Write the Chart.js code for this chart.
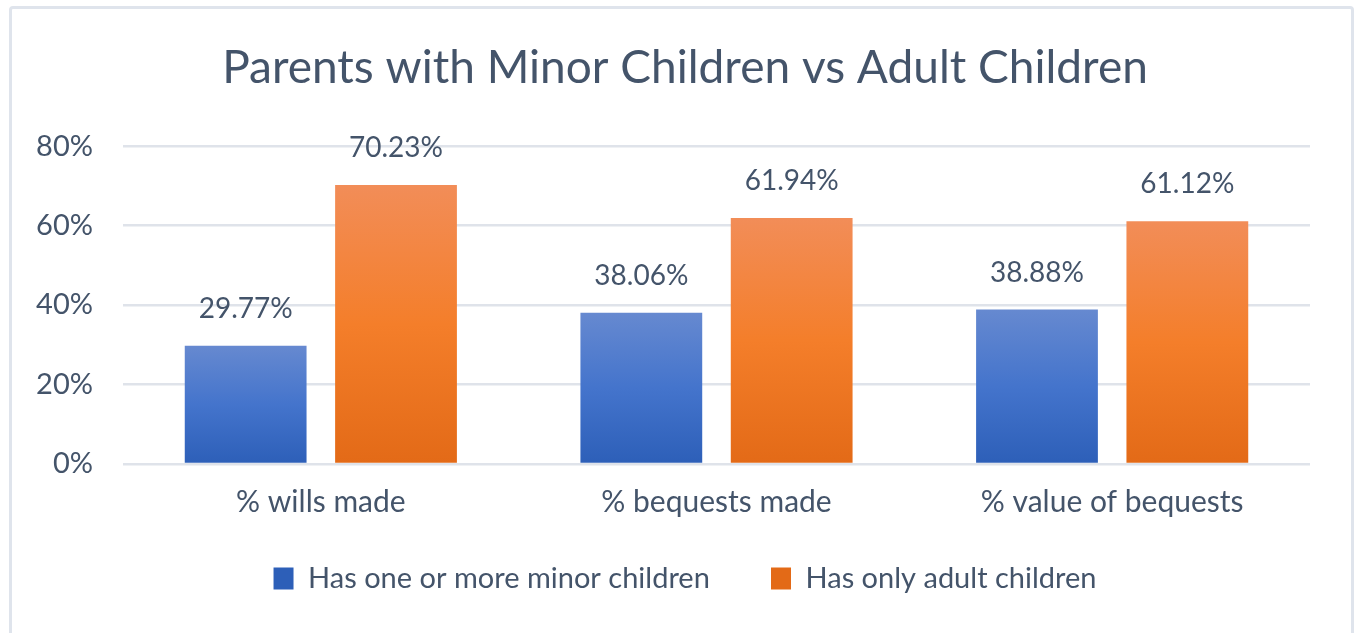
<!DOCTYPE html>
<html>
<head>
<meta charset="utf-8">
<script src="https://cdn.jsdelivr.net/npm/chart.js@4.4.0/dist/chart.umd.min.js"></script>
<style>
  html, body { margin: 0; padding: 0; background: #fff; overflow: hidden; }
  #frame {
    position: absolute; left: 9px; top: 6px; width: 1339px; height: 700px;
    border: 3px solid #dfe4ec; border-radius: 4px;
  }
  #wrap { position: absolute; left: 0; top: 0; width: 1354px; height: 633px; }
</style>
</head>
<body>
<div id="frame"></div>
<div id="wrap"><canvas id="grafico"></canvas></div>
<script>
const categorias = ['% wills made', '% bequests made', '% value of bequests'];
const menores = [29.77, 38.06, 38.88];
const adultos = [70.23, 61.94, 61.12];
const nombres = ['Has one or more minor children', 'Has only adult children'];
const ticksY = [0, 20, 40, 60, 80];

const textoColor = '#44546a';
const fuente = 'Lato, "Open Sans", sans-serif';

// degradado por barra, claro arriba y oscuro abajo
function degradado(arriba, medio, abajo, plano) {
    return function (ctx) {
        const chart = ctx.chart;
        if (!chart.chartArea || ctx.type !== 'data') return plano;
        const y = chart.scales.y;
        const top = y.getPixelForValue(ctx.raw);
        const bottom = y.getPixelForValue(0);
        const g = chart.ctx.createLinearGradient(0, top, 0, bottom);
        g.addColorStop(0, arriba);
        g.addColorStop(0.5, medio);
        g.addColorStop(1, abajo);
        return g;
    };
}

const etiquetas = {
    id: 'etiquetas',
    afterDatasetsDraw(chart) {
        const ctx = chart.ctx;
        ctx.save();
        ctx.font = '28px ' + fuente;
        ctx.fillStyle = textoColor;
        ctx.textAlign = 'center';
        ctx.textBaseline = 'alphabetic';
        chart.data.datasets.forEach((ds, i) => {
            chart.getDatasetMeta(i).data.forEach((bar, j) => {
                ctx.fillText(ds.data[j].toFixed(2) + '%', bar.x, bar.y - 28);
            });
        });
        ctx.restore();
    }
};

new Chart(document.getElementById('grafico'), {
    type: 'bar',
    data: {
        labels: categorias,
        datasets: [{
            label: nombres[0],
            data: menores,
            backgroundColor: degradado('#6689d0', '#4474cc', '#2d5fb8', '#4474cc'),
            categoryPercentage: 0.76,
            barPercentage: 0.81
        }, {
            label: nombres[1],
            data: adultos,
            backgroundColor: degradado('#f28d58', '#f47e2a', '#e36a17', '#f47e2a'),
            categoryPercentage: 0.76,
            barPercentage: 0.81
        }]
    },
    options: {
        responsive: true,
        maintainAspectRatio: false,
        animation: false,
        layout: { padding: { left: 30, right: 14, top: 41, bottom: 30 } },
        scales: {
            x: {
                grid: { display: false },
                border: { display: false },
                ticks: { color: textoColor, font: { family: fuente, size: 30 }, padding: 12 }
            },
            y: {
                min: 0,
                max: ticksY[ticksY.length - 1],
                afterBuildTicks: (axis) => { axis.ticks = ticksY.map(v => ({ value: v })); },
                afterFit: (s) => { s.width = 93; },
                grid: { color: '#dfe3ea', lineWidth: 2.5, drawTicks: false },
                border: { display: false },
                ticks: {
                    color: textoColor,
                    font: { family: fuente, size: 29 },
                    padding: 30,
                    callback: v => v + '%'
                }
            },
            // eje vacío a la derecha solo para dejar margen
            margen: {
                type: 'linear',
                position: 'right',
                grid: { display: false },
                border: { display: false },
                ticks: { display: false },
                afterFit: (s) => { s.width = 30; }
            }
        },
        plugins: {
            title: {
                display: true,
                text: 'Parents with Minor Children vs Adult Children',
                color: textoColor,
                font: { family: fuente, size: 46, weight: 'normal' },
                padding: { top: 0, bottom: 50 }
            },
            legend: {
                position: 'bottom',
                labels: {
                    color: textoColor,
                    font: { family: fuente, size: 29 },
                    boxWidth: 20,
                    boxHeight: 22,
                    padding: 32,
                    generateLabels: (chart) => {
                        const items = Chart.defaults.plugins.legend.labels.generateLabels(chart);
                        items[0].text = items[0].text + '\u2003 ';
                        return items;
                    }
                }
            },
            tooltip: { enabled: false }
        }
    },
    plugins: [etiquetas]
});
</script>
</body>
</html>
